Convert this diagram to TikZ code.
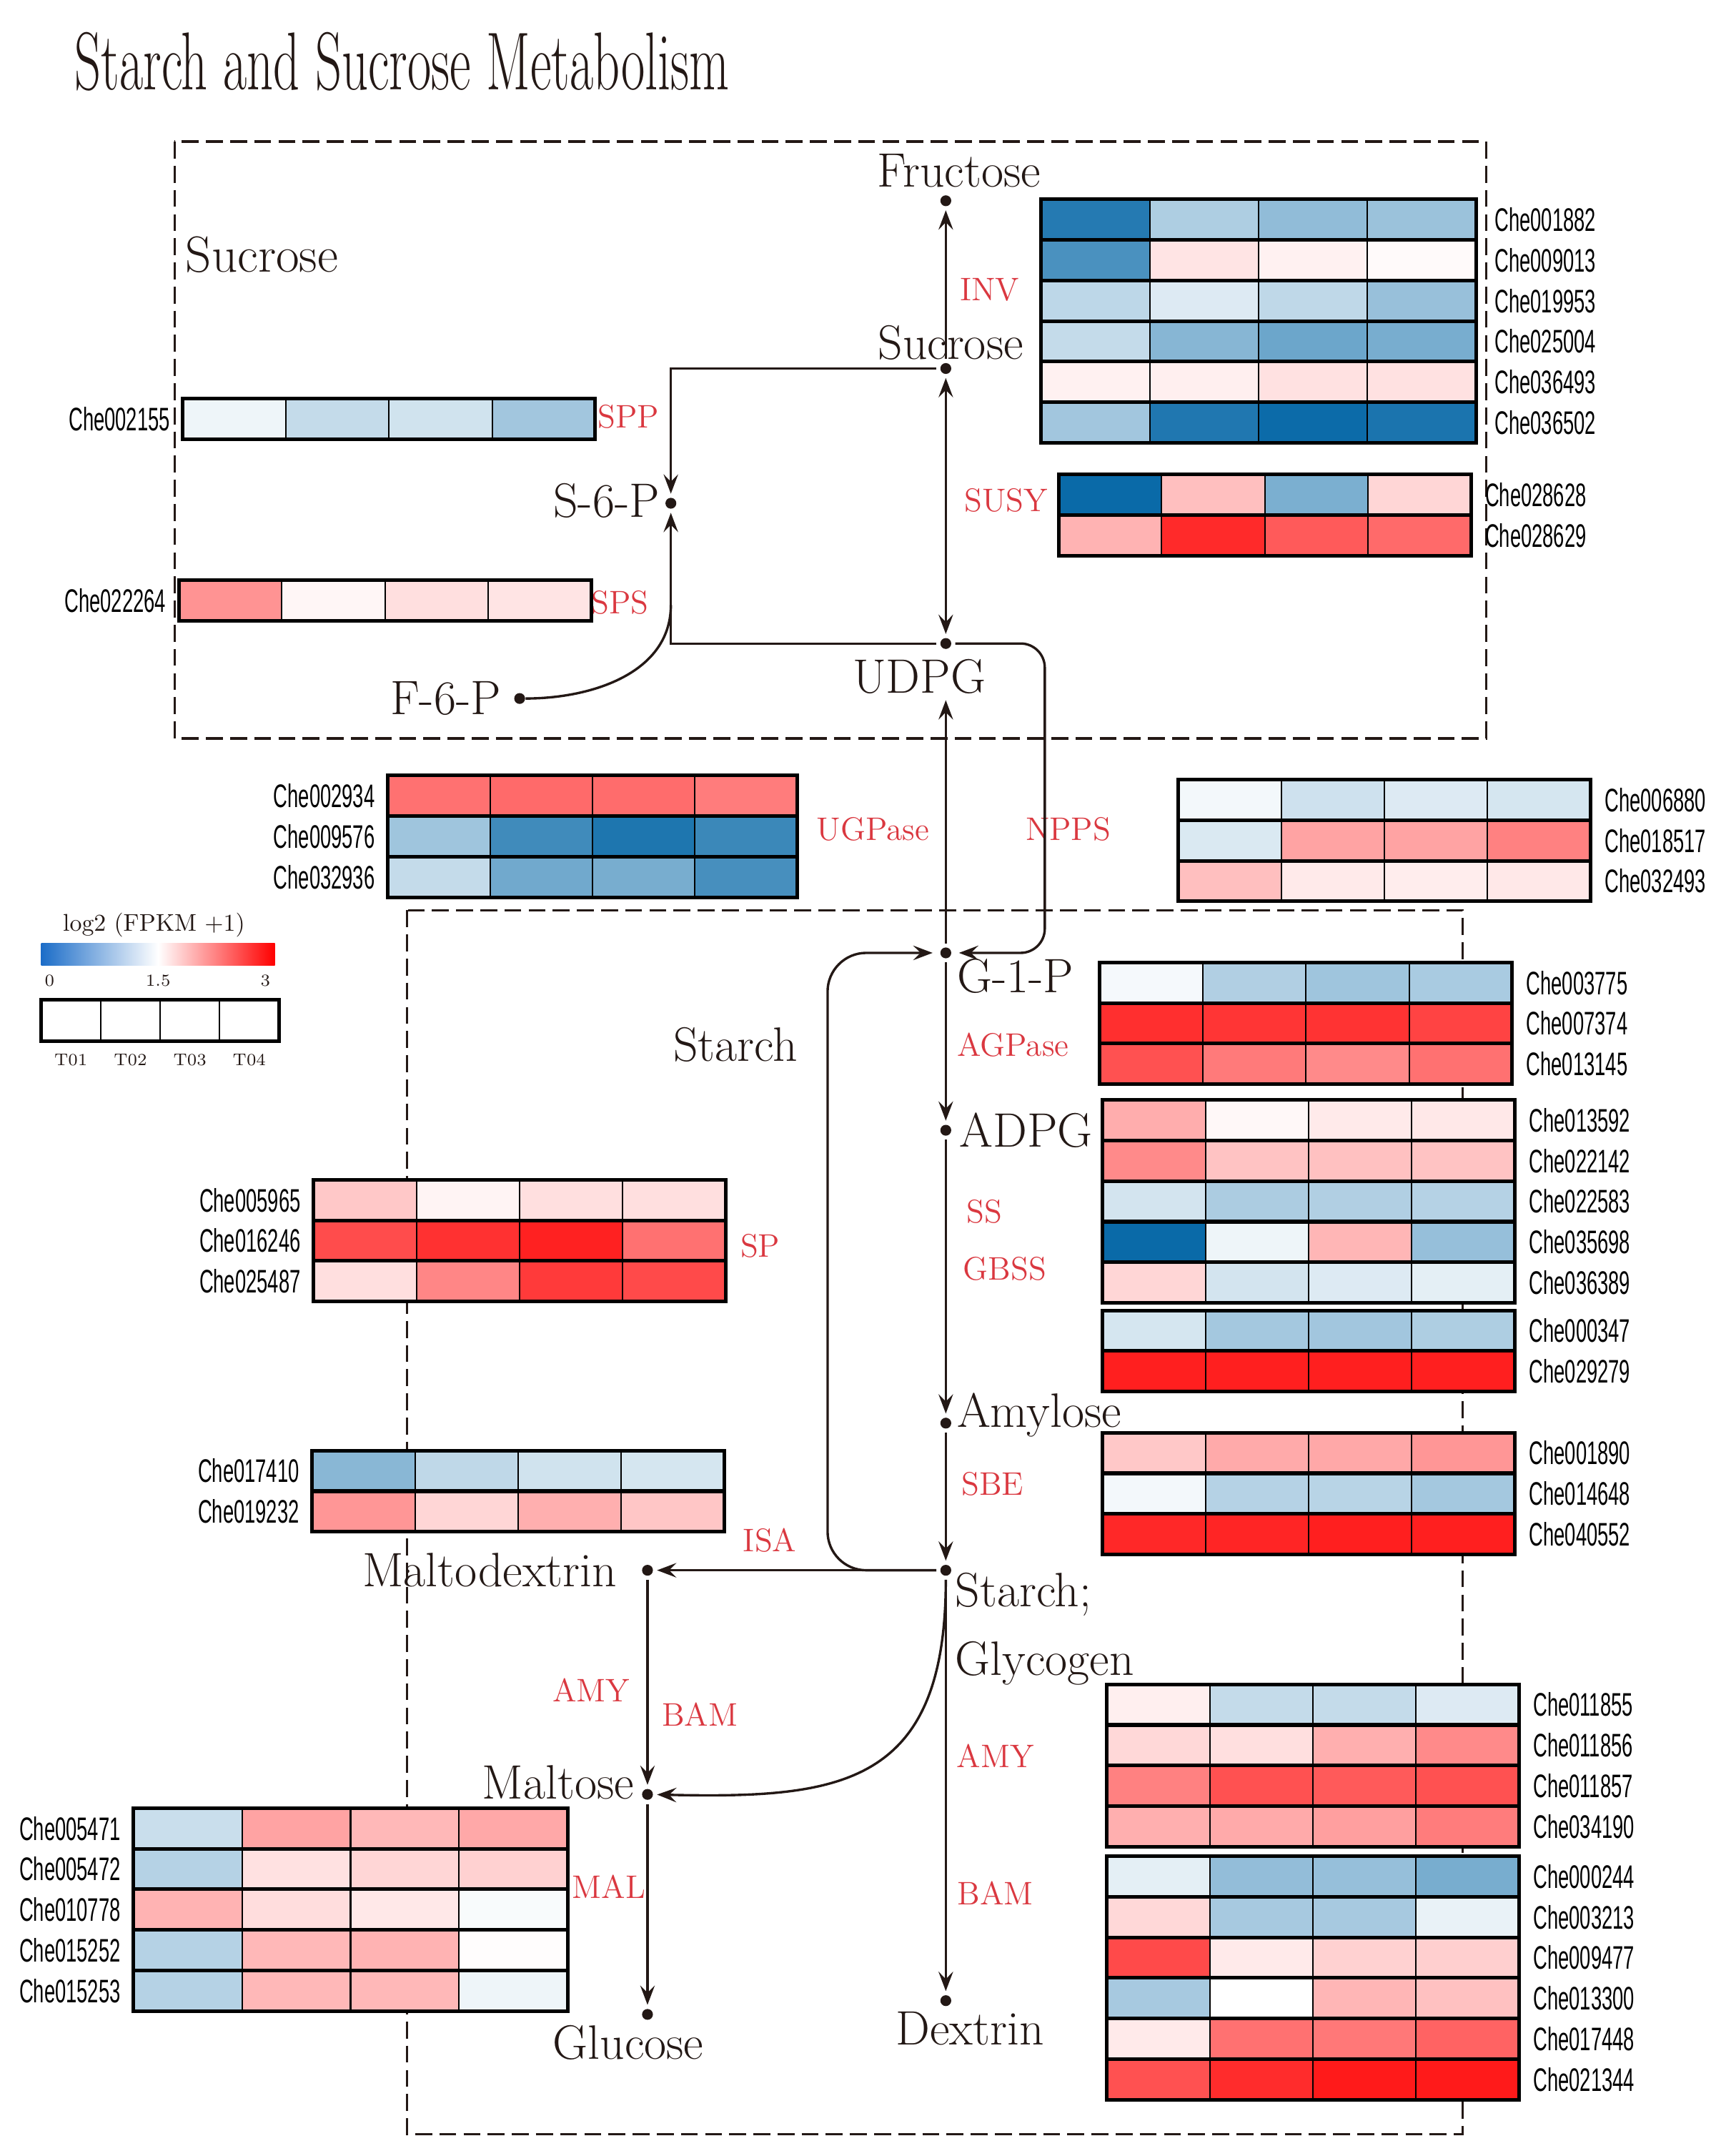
\documentclass[tikz,border=0pt]{standalone}
\usepackage{fontspec}
\usepackage{graphicx}
\usetikzlibrary{arrows.meta,positioning}

\newfontfamily\genefont[FakeStretch=0.6]{Liberation Sans}

\definecolor{ink}{HTML}{231815}
\definecolor{enzred}{HTML}{DA3840}
\definecolor{hmblue}{HTML}{0A6AA8}
\definecolor{hmred}{HTML}{FF1A1A}
\definecolor{legblue}{HTML}{1C6DC8}

\tikzset{
  >={Stealth[length=8pt,width=6pt,inset=3pt]},
  dot/.style={circle, fill=ink, inner sep=0pt, minimum size=4.5pt},
  met/.style={font=\fontsize{20}{23}\selectfont, text=ink, inner sep=1pt},
  enz/.style={font=\fontsize{13.5}{15}\selectfont, text=enzred, inner sep=0pt},
  gene/.style={font=\genefont\fontsize{13.5}{15}\selectfont, inner sep=0pt},
  legtick/.style={font=\fontsize{7}{8}\selectfont, text=ink, inner sep=0pt},
  flow/.style={draw=ink, line width=1pt, ->, shorten >=1.5pt, shorten <=1.5pt},
  link/.style={draw=ink, line width=1pt},
  region/.style={draw=ink, line width=1pt, dash pattern=on 7pt off 3pt},
  cell/.style={draw=black, line width=0.6pt},
  rowframe/.style={draw=black, line width=1.5pt},
}

% one heat map: left x, top y, cell width, rows of values, gene ids, label x, label anchor
% values: negative = blue, positive = red (percent of full colour)
\newcommand{\rowh}{29.5}
\newcommand{\heatmap}[7]{%
  \foreach \row [count=\rw from 0] in {#4} {
    \foreach \v [count=\cl from 0] in \row {
      \pgfmathtruncatemacro\pct{abs(\v)}
      \ifnum\v<0 \colorlet{cellc}{hmblue!\pct!white}\else\colorlet{cellc}{hmred!\pct!white}\fi
      \filldraw[cell, fill=cellc] ({#1+\cl*#3},{#2+\rw*\rowh}) rectangle ++(#3,\rowh);
    }
    \draw[rowframe] ({#1},{#2+\rw*\rowh}) rectangle ++({4*#3},\rowh);
  }
  \foreach \id [count=\rw from 1] in {#5}
    \node[gene, anchor=#7] (\id) at (#6,{#2+(\rw-0.5)*\rowh}) {\id};
}

\begin{document}
\begin{tikzpicture}[x=0.02cm, y=-0.02cm]
\useasboundingbox (0,0) rectangle (1248,1568);

\node[anchor=west, text=ink, inner sep=0pt] (title) at (54,45)
  {\fontsize{34}{37}\selectfont\scalebox{0.63}[1]{Starch and Sucrose Metabolism}};

% compartments
\draw[region] (127,103) rectangle (1081,537);
\draw[region] (296,662) rectangle (1064,1552);
\node[met, anchor=west, font=\fontsize{21}{23}\selectfont] (sucbox) at (133,185) {Sucrose};
\node[met] (stabox) at (535,760) {Starch};

% metabolites
\node[dot] (fru)  at (688,146)  {};
\node[dot] (suc)  at (688,268)  {};
\node[dot] (udpg) at (688,468)  {};
\node[dot] (g1p)  at (688,693)  {};
\node[dot] (adpg) at (688,822)  {};
\node[dot] (amyl) at (688,1035) {};
\node[dot] (star) at (688,1142) {};
\node[dot] (dext) at (688,1455) {};
\node[dot] (mdex) at (471,1142) {};
\node[dot] (malt) at (471,1305) {};
\node[dot] (gluc) at (471,1465) {};
\node[dot] (s6p)  at (488,366)  {};
\node[dot] (f6p)  at (378,508)  {};

\node[met, above=2pt of fru, xshift=5.5pt] (lfru) {Fructose};
\node[met, above=0pt of suc, xshift=2pt] (lsuc) {Sucrose};
\node[met, below=3pt of udpg, xshift=-11pt] (ludpg) {UDPG};
\node[met, right=1pt of g1p, yshift=-9.5pt] (lg1p) {G-1-P};
\node[met, right=2pt of adpg] (ladpg) {ADPG};
\node[met, right=1pt of amyl, yshift=3.4pt] (lamyl) {Amylose};
\node[met, align=left, below right=-2pt and 1pt of star, font=\fontsize{20}{28.5}\selectfont] (lstar) {Starch;\\Glycogen};
\node[met, below=1pt of dext, xshift=10pt] (ldext) {Dextrin};
\node[met, left=9pt of mdex] (lmdex) {Maltodextrin};
\node[met, left=2pt of malt, yshift=5pt] (lmalt) {Maltose};
\node[met, below=1pt of gluc, xshift=-8pt] (lgluc) {Glucose};
\node[met, left=1pt of s6p, yshift=1pt] (ls6p) {S-6-P};
\node[met, left=4pt of f6p] (lf6p) {F-6-P};

% enzymes
\node[enz] (eINV)    at (720,211)  {INV};
\node[enz] (eSUSY)   at (732,364)  {SUSY};
\node[enz] (eSPP)    at (457,303)  {SPP};
\node[enz] (eSPS)    at (451,438)  {SPS};
\node[enz] (eUGPase) at (635,603)  {UGPase};
\node[enz] (eNPPS)   at (777,603)  {NPPS};
\node[enz] (eAGPase) at (737,760)  {AGPase};
\node[enz] (eSS)     at (716,881)  {SS};
\node[enz] (eGBSS)   at (731,923)  {GBSS};
\node[enz] (eSBE)    at (722,1079) {SBE};
\node[enz] (eAMYa)   at (724,1277) {AMY};
\node[enz] (eBAMa)   at (724,1377) {BAM};
\node[enz] (eSP)     at (553,906)  {SP};
\node[enz] (eISA)    at (560,1120) {ISA};
\node[enz] (eAMYb)   at (430,1229) {AMY};
\node[enz] (eBAMb)   at (509,1247) {BAM};
\node[enz] (eMAL)    at (443,1372) {MAL};

% reactions
\coordinate (j6p) at (488,440);
\coordinate (nppsbend) at (760,580);
\coordinate (spbend) at (602,900);

\draw[flow] (suc) -- (fru);
\draw[flow, <->] (suc) -- (udpg);
\draw[flow] (suc) -| (s6p);
\draw[flow] (udpg) -| (s6p);
\draw[link] (f6p) to[out=0, in=-90] (j6p);
\draw[flow, <-, shorten <=21pt] (udpg) -- (g1p);
\draw[flow, rounded corners=10pt, shorten >=3pt] (udpg) -| (nppsbend) |- (g1p);
\draw[flow, rounded corners=16pt, shorten >=3pt] (star) -| (spbend) |- (g1p);
\draw[flow] (g1p) -- (adpg);
\draw[flow] (adpg) -- (amyl);
\draw[flow] (amyl) -- (star);
\draw[flow] (star) -- (dext);
\draw[flow] (star) -- (mdex);
\draw[flow] (star) .. controls (688,1300) and (610,1308) .. (malt);
\draw[flow] (mdex) -- (malt);
\draw[flow] (malt) -- (gluc);

% heat maps
\heatmap{757}{145}{79.25}{{-89,-33,-45,-41},{-74,12,6,2},{-27,-14,-26,-42},{-24,-49,-60,-55},{6,7,13,13},{-38,-91,-99,-93}}{Che001882,Che009013,Che019953,Che025004,Che036493,Che036502}{1087}{west}
\heatmap{770}{345}{75}{{-100,28,-54,18},{33,93,72,65}}{Che028628,Che028629}{1080}{west}
\heatmap{133}{290}{75}{{-7,-24,-19,-38}}{Che002155}{124}{east}
\heatmap{130}{422}{75}{{47,4,14,12}}{Che022264}{121}{east}
\heatmap{282}{564}{74.5}{{62,65,64,57},{-39,-78,-92,-80},{-24,-58,-55,-75}}{Che002934,Che009576,Che032936}{273}{east}
\heatmap{857}{567}{75}{{-5,-20,-14,-17},{-15,40,40,55},{28,9,8,10}}{Che006880,Che018517,Che032493}{1167}{west}
\heatmap{800}{700}{75}{{-4,-32,-39,-35},{91,88,89,82},{76,58,51,62}}{Che003775,Che007374,Che013145}{1110}{west}
\heatmap{802}{800}{75}{{36,3,9,10},{51,26,27,26},{-18,-34,-32,-30},{-100,-7,32,-43},{18,-18,-14,-11}}{Che013592,Che022142,Che022583,Che035698,Che036389}{1112}{west}
\heatmap{802}{953}{75}{{-17,-37,-38,-33},{98,98,98,98}}{Che000347,Che029279}{1112}{west}
\heatmap{802}{1042}{75}{{24,37,38,46},{-5,-30,-29,-37},{94,95,98,98}}{Che001890,Che014648,Che040552}{1112}{west}
\heatmap{228}{858}{75}{{24,5,14,14},{78,90,97,62},{14,53,86,79}}{Che005965,Che016246,Che025487}{219}{east}
\heatmap{227}{1055}{75}{{-48,-26,-19,-17},{46,18,35,25}}{Che017410,Che019232}{218}{east}
\heatmap{97}{1315}{79}{{-22,40,31,38},{-30,13,18,20},{33,15,10,-3},{-30,31,33,1},{-30,31,31,-7}}{Che005471,Che005472,Che010778,Che015252,Che015253}{88}{east}
\heatmap{805}{1225}{75}{{7,-24,-24,-14},{17,14,35,51},{55,76,72,76},{35,37,42,57}}{Che011855,Che011856,Che011857,Che034190}{1115}{west}
\heatmap{805}{1350}{75}{{-11,-44,-43,-55},{17,-36,-36,-9},{79,9,20,21},{-36,0,32,27},{9,62,59,68},{76,92,100,100}}{Che000244,Che003213,Che009477,Che013300,Che017448,Che021344}{1115}{west}

% legend
\node[text=ink, inner sep=0pt, font=\fontsize{10}{12}\selectfont] (legtitle) at (112,673) {log2 (FPKM +1)};
\shade[left color=legblue, right color=red, middle color=white] (30,686) rectangle (200,702);
\node[legtick] (tick0)  at (36,713)  {0};
\node[legtick] (tick15) at (115,713) {1.5};
\node[legtick] (tick3)  at (193,713) {3};
\foreach \i in {0,...,3}
  \draw[cell] ({30+\i*43.25},727) rectangle ++(43.25,30);
\draw[rowframe] (30,727) rectangle ++(173,30);
\foreach \smp [count=\i from 0] in {T01,T02,T03,T04}
  \node[legtick] (\smp) at ({51.6+\i*43.25},771) {\smp};

\end{tikzpicture}
\end{document}
